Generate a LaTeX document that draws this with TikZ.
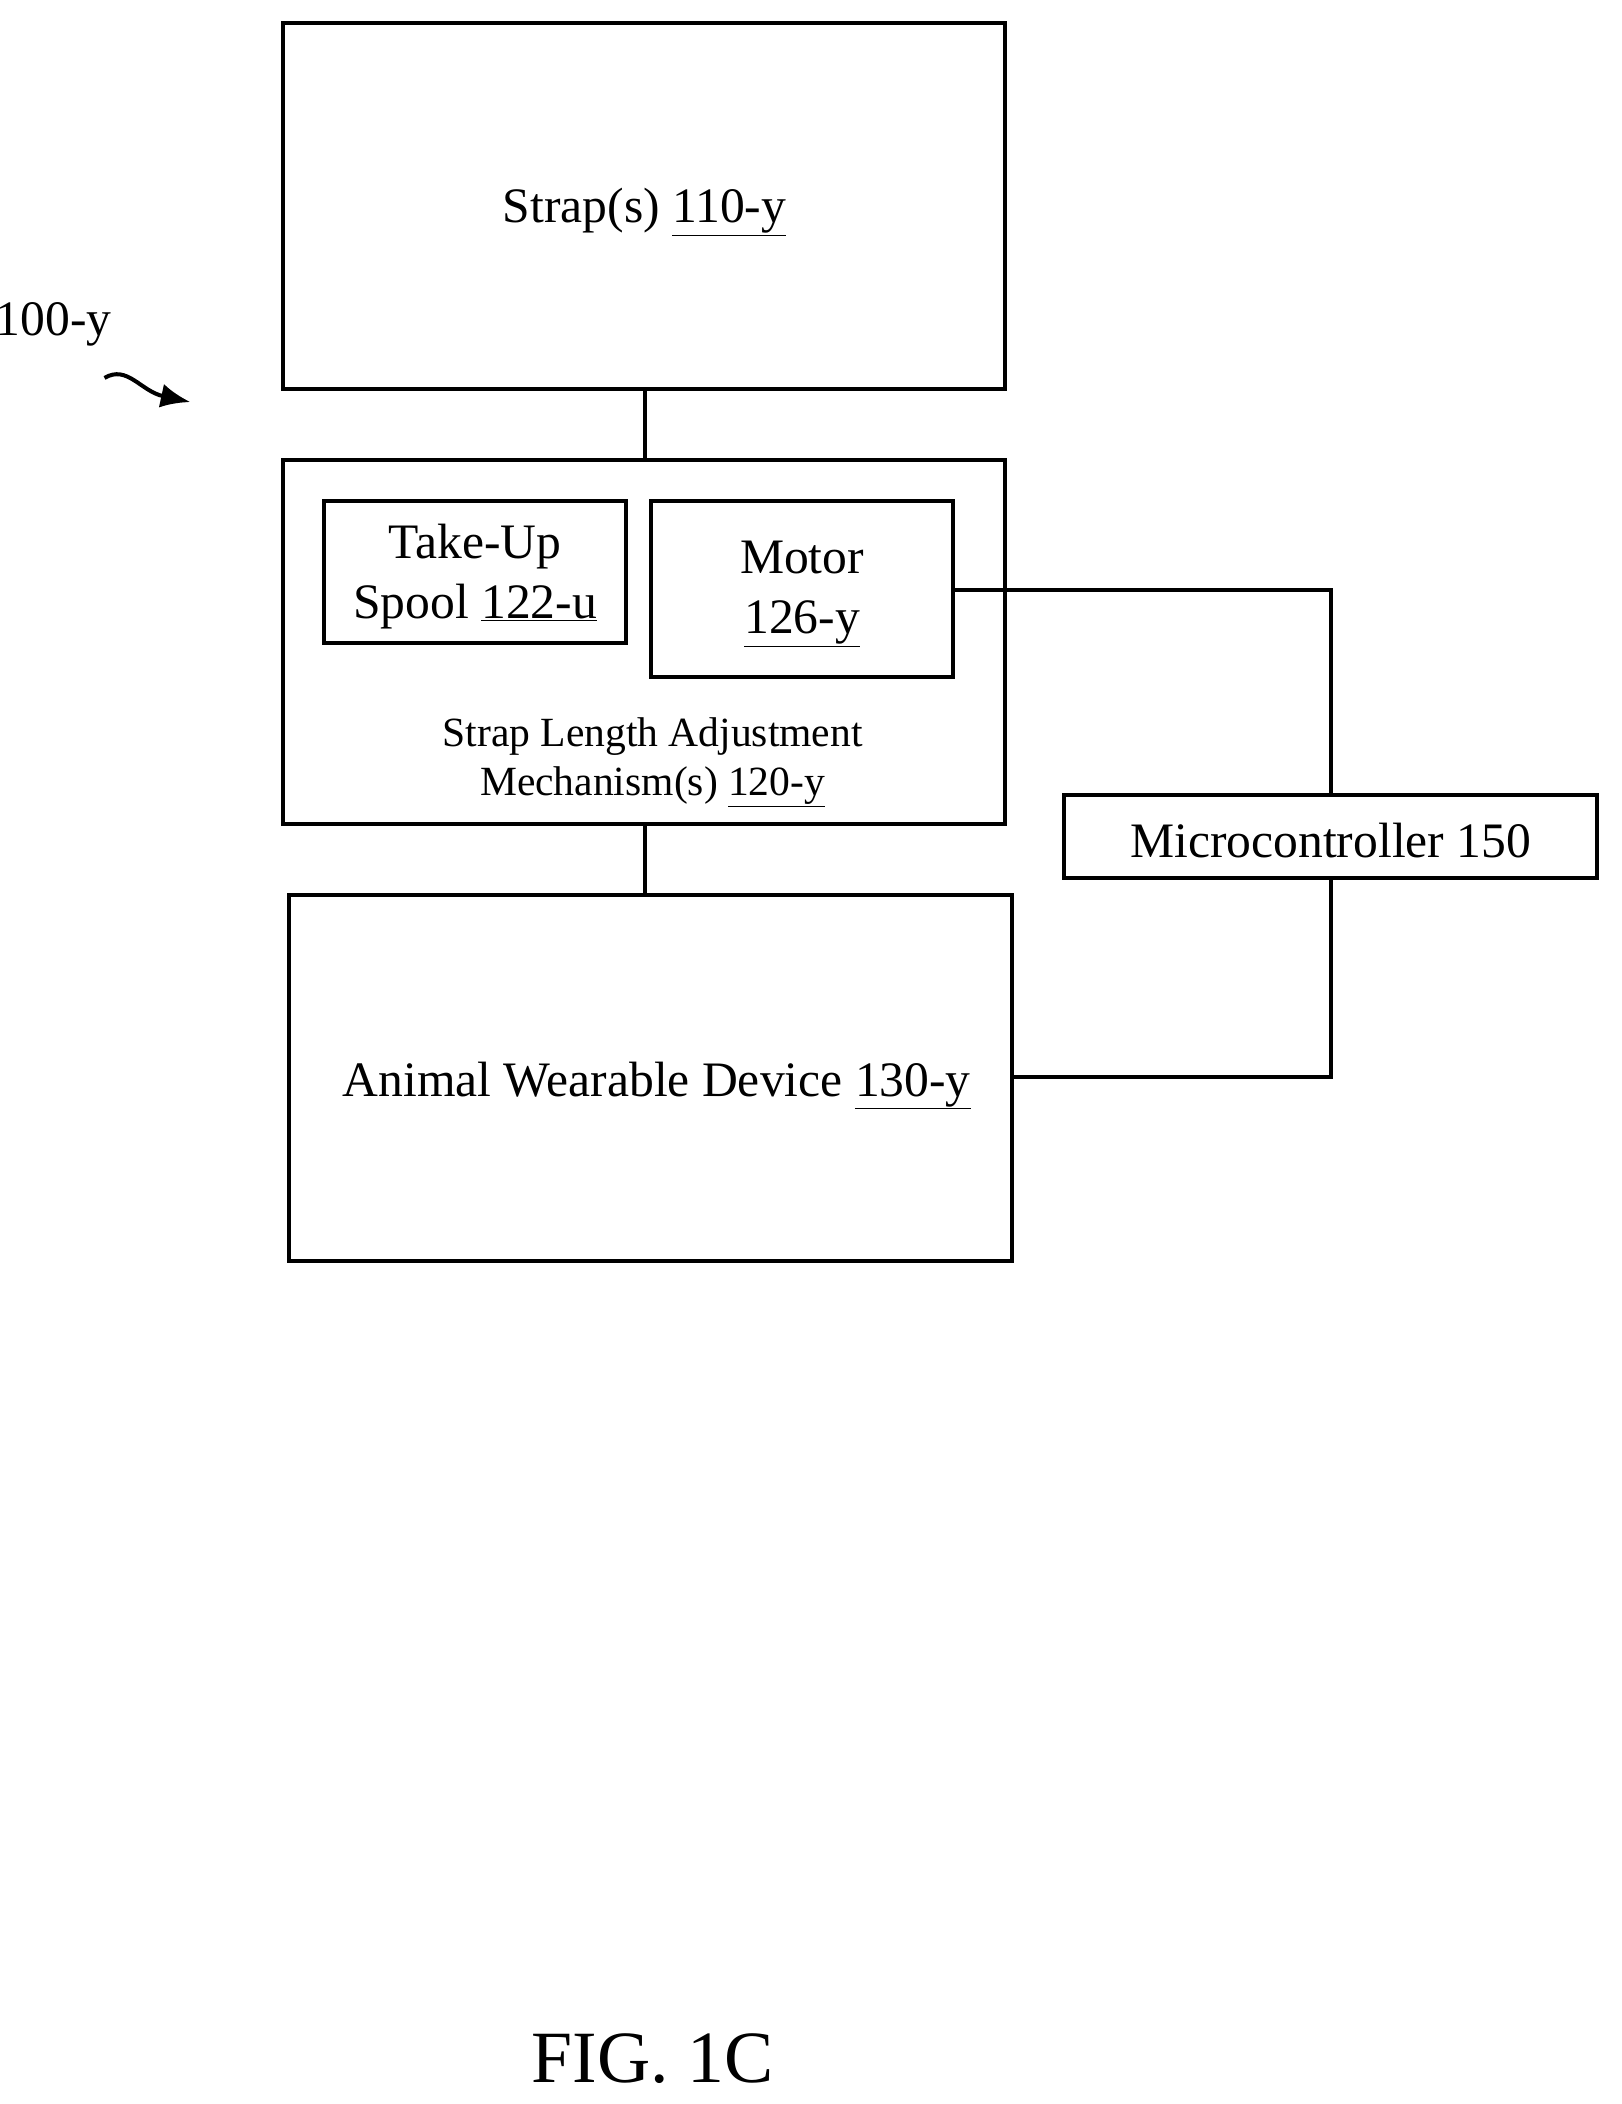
\documentclass[tikz,border=0pt]{standalone}
\usepackage{fontspec}
\setmainfont{Liberation Serif}
\usetikzlibrary{arrows.meta}
\begin{document}
\begin{tikzpicture}[x=1pt,y=-1pt,
  box/.style={draw,line width=3pt},
  ln/.style={line width=3pt},
  big/.style={font=\fontsize{37}{45}\selectfont},
  mid/.style={font=\fontsize{31}{37}\selectfont,align=center}]
\useasboundingbox (0,0) rectangle (1210,1570);
\draw[box] (211,17) rectangle (750,290);
\node[big] (s) at (481,158) {Strap(s) \underline{110-y}};
\draw[box] (211,343) rectangle (750,615);
\draw[box] (242,374) rectangle (467,480);
\node[big,align=center] (t) at (354.5,430) {Take-Up\\Spool \underline{122-u}};
\draw[box] (486,374) rectangle (711,505);
\node[big,align=center] (m) at (598.5,443) {Motor\\\underline{126-y}};
\node[mid] (sl) at (487,569) {Strap Length Adjustment\\Mechanism(s) \underline{120-y}};
\draw[box] (216,668) rectangle (755,941);
\node[big] (a) at (490,810) {Animal Wearable Device \underline{130-y}};
\draw[box] (794,593) rectangle (1192,655);
\node[big] (mc) at (993,627) {Microcontroller 150};
\draw[ln] (481,290) -- (481,343);
\draw[ln] (481,615) -- (481,668);
\draw[ln] (711,440) -- (993,440) -- (993,593);
\draw[ln] (993,655) -- (993,804) -- (755,804);
\node[big] (l) at (40,242) {100-y};
\draw[line width=3pt,-{Latex[length=22pt,width=18pt]}] (78,282) .. controls (95,272) and (105,292) .. (142,300);
\node[font=\fontsize{55}{60}\selectfont] (f) at (487,1536) {FIG. 1C};
\end{tikzpicture}
\end{document}
